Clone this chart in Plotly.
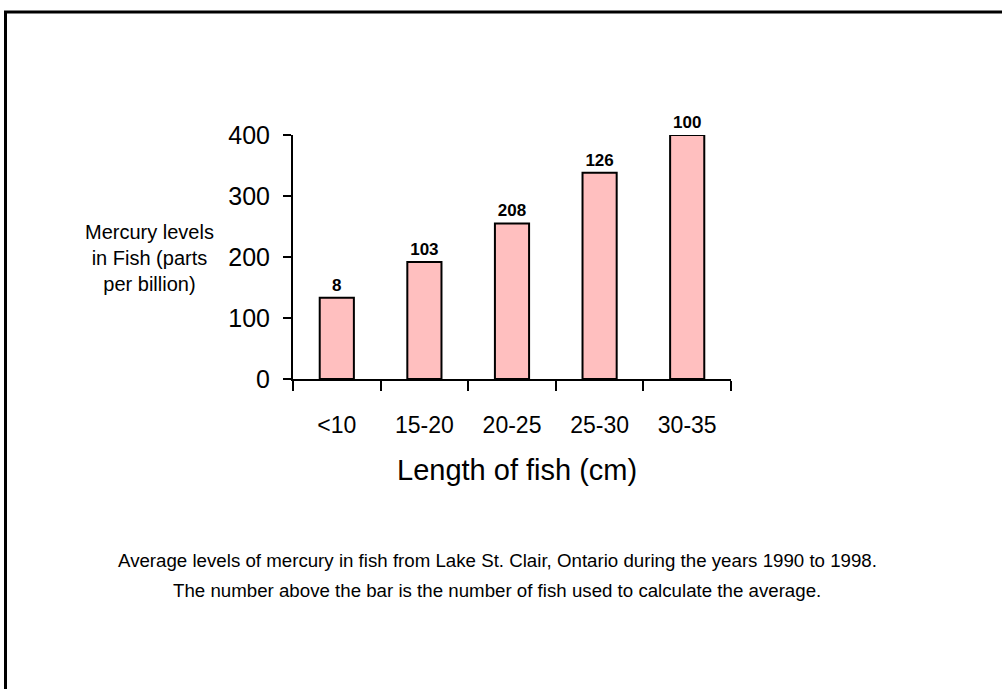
import plotly.graph_objects as go

# Fish length classes and average mercury levels (ppb)
lengths = ["<10", "15-20", "20-25", "25-30", "30-35"]
mercury_ppb = [133, 192, 255, 338, 400]
fish_counts = ["8", "103", "208", "126", "100"]
y_ticks = [0, 100, 200, 300, 400]

FONT = "Arial, Liberation Sans, sans-serif"

# plot-area geometry in pixels (used for paper-space conversions)
W, H = 1002, 689
L, R, T, B = 293, 731, 135, 379


def px(x):
    return (x - L) / (R - L)


def py(y):
    return (B - y) / (B - T)


fig = go.Figure(
    go.Bar(
        x=lengths,
        y=mercury_ppb,
        text=fish_counts,
        textposition="outside",
        textfont=dict(family=FONT, size=17, color="black", weight="bold"),
        marker=dict(color="#FFBFBF", line=dict(color="black", width=2)),
        width=0.39,
        cliponaxis=False,
    )
)

fig.update_layout(
    width=W,
    height=H,
    margin=dict(l=L, r=W - R, t=T, b=H - B),
    plot_bgcolor="white",
    paper_bgcolor="white",
    showlegend=False,
    font=dict(family=FONT, color="black"),
    xaxis=dict(
        showline=True,
        linecolor="black",
        linewidth=2,
        ticks="outside",
        ticklen=10,
        tickwidth=2,
        tickcolor="black",
        tickson="boundaries",
        tickfont=dict(size=23),
        ticklabelstandoff=24,
        showgrid=False,
        range=[-0.5, 4.5],
    ),
    yaxis=dict(
        range=[0, 400],
        tickvals=y_ticks,
        showline=True,
        linecolor="black",
        linewidth=2,
        ticks="outside",
        ticklen=8,
        tickwidth=2,
        tickcolor="black",
        tickfont=dict(size=25),
        ticklabelstandoff=8,
        showgrid=False,
        zeroline=False,
    ),
)


def label(x, y, text, size):
    fig.add_annotation(
        x=px(x), y=py(y), xref="paper", yref="paper",
        xanchor="center", yanchor="middle", align="center",
        text=text, showarrow=False,
        font=dict(family=FONT, size=size, color="black"),
    )


# x-axis title
label(517, 470, "Length of fish (cm)", 29)

# horizontal y-axis title placed to the left of the tick labels
label(149, 258, "Mercury levels<br>in Fish (parts<br>per billion)", 20)

# caption lines under the chart
label(497, 560, "Average levels of mercury in fish from Lake St. Clair, Ontario during the years 1990 to 1998.", 18.7)
label(497, 590, "The number above the bar is the number of fish used to calculate the average.", 18.7)

# page frame: top and left edges
fig.add_shape(
    type="path", xref="paper", yref="paper",
    path=f"M {px(5.5)} {py(700)} L {px(5.5)} {py(12)} L {px(1010)} {py(12)}",
    line=dict(color="black", width=3),
)

fig.write_html("out.html")
